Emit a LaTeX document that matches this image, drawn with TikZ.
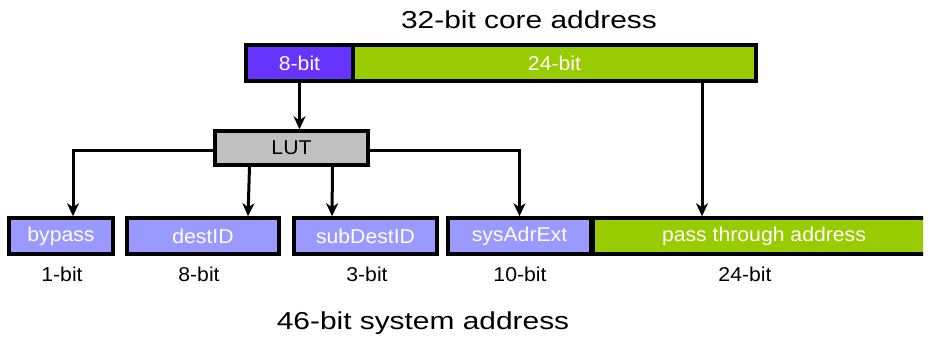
\documentclass[tikz,border=0pt]{standalone}
\usepackage{fontspec}
\setmainfont[FakeStretch=1.06]{Liberation Sans}
\newfontfamily\titlefont[FakeStretch=1.22]{Liberation Sans}
\usetikzlibrary{arrows.meta,positioning,calc}
\definecolor{bitviolet}{HTML}{6633FF}
\definecolor{bitgreen}{HTML}{99CC00}
\definecolor{bitlilac}{HTML}{9999FF}
\definecolor{lutgray}{HTML}{C0C0C0}

\begin{document}
\begin{tikzpicture}[x=1pt, y=-1pt,
    field/.style={draw, line width=3.5pt, minimum height=36pt, inner sep=0pt, text=white, font=\fontsize{20}{20}\selectfont},
    wire/.style={line width=3pt, -{Stealth[length=13pt, width=12pt, inset=4pt]}},
    bits/.style={font=\fontsize{20}{20}\selectfont},
    heading/.style={font=\titlefont\fontsize{24.5}{24.5}\selectfont}]
    \useasboundingbox (0,0) rectangle (928,343);
    \clip (0,0) rectangle (923,343);

    % core address
    \node[heading] (coretitle) at (529,20) {32-bit core address};
    \node[field, fill=bitviolet, minimum width=107pt] (core8) at (299.5,63) {8-bit};
    \node[field, fill=bitgreen, minimum width=403pt] (core24) at (554.5,63) {24-bit};

    \node[field, fill=lutgray, text=black, minimum width=153pt, minimum height=34pt] (lut) at (291.5,148) {LUT};

    % system address
    \node[field, fill=bitlilac, minimum width=104pt] (bypass) at (61,236) {bypass};
    \node[field, fill=bitlilac, minimum width=152pt] (destid) at (203,236) {destID};
    \node[field, fill=bitlilac, minimum width=143pt] (subdest) at (365.5,236) {subDestID};
    \node[field, fill=bitlilac, minimum width=143pt] (sysadr) at (519.5,236) {sysAdrExt};
    \node[field, fill=bitgreen, minimum width=342pt] (pass) at (764,236) {pass through address};

    \node[bits] (wbypass) at (62,274) {1-bit};
    \node[bits] (wdestid) at (199,274) {8-bit};
    \node[bits] (wsubdest) at (367,274) {3-bit};
    \node[bits] (wsysadr) at (520,274) {10-bit};
    \node[bits] (wpass) at (745,274) {24-bit};
    \node[heading] (systitle) at (423,323) {46-bit system address};

    % connectors
    \draw[wire] (core8.south) -- (core8.south |- lut.north);
    \draw[wire] ([yshift=-2pt]lut.west) -| ([xshift=12pt]bypass.north);
    \draw[wire] ([xshift=-42pt]lut.south) -- ([xshift=45pt]destid.north);
    \draw[wire] ([xshift=41pt]lut.south) -- ([xshift=-33.5pt]subdest.north);
    \draw[wire] ([yshift=-2pt]lut.east) -| (sysadr.north);
    \draw[wire] ([xshift=147.5pt]core24.south) -- ([xshift=147.5pt]core24.south |- pass.north);
\end{tikzpicture}
\end{document}
